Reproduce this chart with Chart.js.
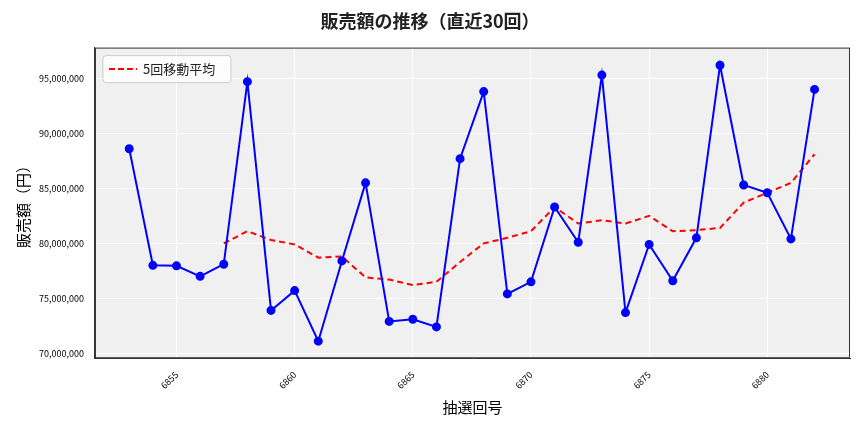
<!DOCTYPE html>
<html><head><meta charset="utf-8">
<script src="https://cdn.jsdelivr.net/npm/chart.js@4"></script>
<style>body{margin:0;background:#fff}#wrap{width:864px;height:432px}</style>
</head><body><div id="wrap"><canvas id="c"></canvas></div>
<script>
const draws = [6853,6854,6855,6856,6857,6858,6859,6860,6861,6862,6863,6864,6865,6866,6867,6868,6869,6870,6871,6872,6873,6874,6875,6876,6877,6878,6879,6880,6881,6882];
const sales = [88.6,78.0,77.95,77.0,78.1,94.7,73.9,75.7,71.1,78.4,85.5,72.9,73.1,72.4,87.7,93.8,75.4,76.5,83.3,80.1,95.3,73.7,79.9,76.6,80.5,96.2,85.3,84.6,80.4,94.0];
const maDraws = draws.slice(4);
const ma5 = [80.0,81.1,80.3,79.9,78.7,78.8,76.9,76.7,76.2,76.5,78.3,80.0,80.5,81.1,83.3,81.8,82.1,81.8,82.5,81.1,81.2,81.4,83.7,84.6,85.5,88.1];

const font = 'Noto Sans CJK JP';
const bgPlugin = {
  id: 'bg',
  beforeDraw(chart) {
    const a = chart.chartArea, ctx = chart.ctx;
    ctx.save(); ctx.fillStyle = '#f0f0f0';
    ctx.fillRect(a.left, a.top, a.right - a.left, a.bottom - a.top);
    ctx.restore();
  },
  afterDraw(chart) {
    const a = chart.chartArea, ctx = chart.ctx;
    ctx.save();
    ctx.strokeStyle = '#333'; ctx.lineWidth = 1;
    ctx.strokeRect(a.left + 0.5, a.top + 0.5, a.right - a.left - 1, a.bottom - a.top - 1);
    // legend box
    const x = a.left + 8, y = a.top + 8, w = 128, h = 27;
    ctx.fillStyle = 'rgba(255,255,255,0.85)'; ctx.strokeStyle = '#ccc';
    ctx.beginPath(); ctx.roundRect(x, y, w, h, 3); ctx.fill(); ctx.stroke();
    ctx.strokeStyle = '#ff0000'; ctx.lineWidth = 2; ctx.setLineDash([6, 3]);
    ctx.beginPath(); ctx.moveTo(x + 6, y + h / 2); ctx.lineTo(x + 34, y + h / 2); ctx.stroke();
    ctx.setLineDash([]);
    ctx.fillStyle = '#222'; ctx.font = '13px "' + font + '"'; ctx.textBaseline = 'middle';
    ctx.fillText(chart.data.datasets[1].label, x + 40, y + h / 2);
    ctx.restore();
  }
};

new Chart(document.getElementById('c'), {
  type: 'line',
  data: {
    datasets: [{
      label: '販売額',
      data: draws.map((d, i) => ({x: d, y: sales[i] * 1e6})),
      borderColor: '#0000ff', backgroundColor: '#0000ff',
      borderWidth: 2, pointRadius: 3.5, tension: 0
    }, {
      label: '5回移動平均',
      data: maDraws.map((d, i) => ({x: d, y: ma5[i] * 1e6})),
      borderColor: '#ff0000', borderDash: [6, 4],
      borderWidth: 2, pointRadius: 0, tension: 0
    }]
  },
  options: {
    responsive: true, maintainAspectRatio: false, animation: false,
    layout: {padding: {right: 14, left: 10, top: 6, bottom: 12}},
    plugins: {
      title: {display: true, text: '販売額の推移（直近30回）', color: '#222',
        font: {family: font, size: 18, weight: 'bold'}, padding: {top: 4, bottom: 16}},
      legend: {display: false},
      tooltip: {enabled: false}
    },
    scales: {
      x: {
        type: 'linear', min: 6851.55, max: 6883.5,
        afterBuildTicks: ax => { ax.ticks = [6855,6860,6865,6870,6875,6880].map(v => ({value: v})); },
        grid: {color: '#ffffff', lineWidth: 1},
        border: {color: '#333'},
        ticks: {maxRotation: 45, minRotation: 45, font: {family: font, size: 9}, color: '#000',
          callback: v => String(v)},
        title: {display: true, text: '抽選回号', font: {family: font, size: 15}, color: '#000'}
      },
      y: {
        min: 69.55e6, max: 97.8e6,
        afterBuildTicks: ax => { ax.ticks = [70,75,80,85,90,95].map(v => ({value: v * 1e6})); },
        grid: {color: '#ffffff', lineWidth: 1},
        border: {color: '#333'},
        ticks: {font: {family: font, size: 9}, color: '#000', callback: v => v.toLocaleString('en-US')},
        title: {display: true, text: '販売額（円）', font: {family: font, size: 15}, color: '#000'}
      }
    }
  },
  plugins: [bgPlugin]
});
</script></body></html>
